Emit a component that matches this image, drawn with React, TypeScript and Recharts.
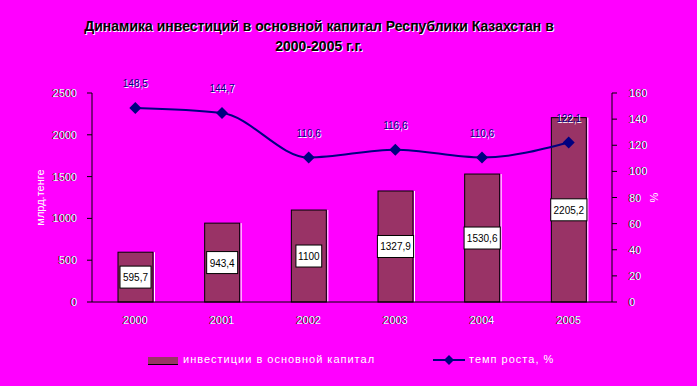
import React from "react";
import {
  ComposedChart, Bar, Line, XAxis, YAxis, Legend, LabelList,
} from "recharts";

const years = ["2000", "2001", "2002", "2003", "2004", "2005"];
const investments = [595.7, 943.4, 1100, 1327.9, 1530.6, 2205.2];
const growthRate = [148.5, 144.7, 110.6, 116.6, 110.6, 122.1];
const leftTicks = [0, 500, 1000, 1500, 2000, 2500];
const rightTicks = [0, 20, 40, 60, 80, 100, 120, 140, 160];
const boundaryTicks = [0, 1, 2, 3, 4, 5, 6];

const data = years.map((year, i) => ({
  year,
  idx: i + 0.5,
  invest: investments[i],
  rate: growthRate[i],
}));

const BG = "#ff00ff";
const BAR = "#993366";
const NAVY = "#000080";
const FONT = "Arial, 'Liberation Sans', sans-serif";

const fmt = (v: number) => String(v).replace(".", ",");

// white text with a dark edge, like the old Excel export
const ShadowText = ({ x, y, anchor, children, size = 11 }: any) => (
  <g fontFamily={FONT} fontSize={size} textAnchor={anchor}>
    <text x={x - 1} y={y} fill="#000">{children}</text>
    <text x={x} y={y} fill="#fff">{children}</text>
  </g>
);

const LeftTick = ({ x, y, payload }: any) => (
  <ShadowText x={x - 8} y={y + 4} anchor="end">{payload.value}</ShadowText>
);
const RightTick = ({ x, y, payload }: any) => (
  <ShadowText x={x + 10} y={y + 4} anchor="start">{payload.value}</ShadowText>
);
const YearTick = ({ x, y, payload }: any) => (
  <ShadowText x={x} y={y + 14} anchor="middle">{payload.value}</ShadowText>
);

const LeftTitle = ({ viewBox }: any) => {
  const cx = viewBox.x + 44;
  const cy = viewBox.y + viewBox.height / 2;
  return (
    <text x={cx} y={cy} transform={`rotate(-90 ${cx} ${cy})`} textAnchor="middle" fontFamily={FONT}
      fontSize={11} fill="#fff">млрд.тенге</text>
  );
};
const RightTitle = ({ viewBox }: any) => {
  const cx = viewBox.x + 46;
  const cy = viewBox.y + viewBox.height / 2;
  return (
    <text x={cx} y={cy} transform={`rotate(-90 ${cx} ${cy})`} textAnchor="middle" fontFamily={FONT}
      fontSize={11} fill="#fff">%</text>
  );
};

const BarShape = ({ x, y, width, height }: any) => (
  <g>
    <rect x={x} y={y} width={width} height={height} fill={BAR} stroke="#000" strokeWidth={1} />
    <line x1={x + width + 1.5} y1={y} x2={x + width + 1.5} y2={y + height} stroke="#fff" strokeWidth={1} />
  </g>
);

const BoxLabel = ({ x, y, width, height, value }: any) => {
  const cx = x + width / 2;
  const cy = y + height / 2;
  const text = fmt(value);
  const w = text.length * 5.2 + 5;
  return (
    <g>
      <rect x={cx - w / 2} y={cy - 11} width={w} height={22} fill="#fff" stroke="#000" strokeWidth={1} />
      <text x={cx} y={cy + 4} textAnchor="middle" fontFamily={FONT} fontSize={10} fill="#000">{text}</text>
    </g>
  );
};

const RateLabel = ({ x, y, value }: any) => (
  <g fontFamily={FONT} fontSize={10} textAnchor="middle">
    <text x={x + 1} y={y - 20} fill="#fff">{fmt(value)}</text>
    <text x={x} y={y - 21} fill={NAVY}>{fmt(value)}</text>
  </g>
);

const Diamond = ({ cx, cy }: any) => (
  <path d={`M${cx - 6},${cy} L${cx},${cy - 6} L${cx + 6},${cy} L${cx},${cy + 6} Z`} fill={NAVY} />
);

const LegendContent = () => (
  <div style={{ position: "relative", height: 30, fontFamily: FONT, fontSize: 11, color: "#fff", letterSpacing: 1 }}>
    <div style={{ position: "absolute", left: 148, top: 4, width: 30, height: 7, background: BAR, borderBottom: "1px solid #000" }} />
    <div style={{ position: "absolute", left: 183, top: 0 }}>инвестиции в основной капитал</div>
    <svg style={{ position: "absolute", left: 433, top: 1 }} width={32} height={12}>
      <line x1={0} y1={6} x2={32} y2={6} stroke={NAVY} strokeWidth={2} />
      <path d="M16,1 L21,6 L16,11 L11,6 Z" fill={NAVY} />
    </svg>
    <div style={{ position: "absolute", left: 469, top: 0 }}>темп роста, %</div>
  </div>
);

export default function App() {
  return (
    <div style={{ position: "fixed", left: 0, top: 0, width: 697, height: 386, background: BG }}>
      <div style={{ position: "absolute", left: 0, top: 16, width: 638, textAlign: "center", fontFamily: FONT, fontSize: 14, fontWeight: "bold", color: "#000", lineHeight: "20px", textShadow: "1px 1px 0 #fff" }}>
        Динамика инвестиций в основной капитал Республики Казахстан в<br />2000-2005 г.г.
      </div>
      <ComposedChart width={697} height={386} data={data}
        margin={{ top: 93, right: 0, left: 0, bottom: 24 }}>
        <XAxis xAxisId="cat" dataKey="year" tick={<YearTick />} tickLine={false}
          axisLine={{ stroke: "#000" }} height={30} interval={0} />
        <XAxis xAxisId="grid" dataKey="idx" type="number" domain={[0, 6]} ticks={boundaryTicks}
          tick={false} tickLine={{ stroke: "#000" }} tickSize={5} axisLine={false} height={0} />
        <YAxis yAxisId="left" domain={[0, 2500]} ticks={leftTicks} width={92}
          tick={<LeftTick />} tickLine={{ stroke: "#000" }} tickSize={5} axisLine={{ stroke: "#000" }}
          label={<LeftTitle />} />
        <YAxis yAxisId="right" orientation="right" domain={[0, 160]} ticks={rightTicks} width={85}
          tick={<RightTick />} tickLine={{ stroke: "#000" }} tickSize={5} axisLine={{ stroke: "#000" }}
          label={<RightTitle />} />
        <Legend verticalAlign="bottom" content={<LegendContent />} wrapperStyle={{ top: 353 }} />
        <Bar xAxisId="cat" yAxisId="left" dataKey="invest" fill={BAR} shape={<BarShape />}
          barSize={35} isAnimationActive={false}>
          <LabelList dataKey="invest" content={<BoxLabel />} />
        </Bar>
        <Line xAxisId="cat" yAxisId="right" dataKey="rate" type="monotone" stroke={NAVY} strokeWidth={2}
          dot={<Diamond />} activeDot={false} isAnimationActive={false}>
          <LabelList dataKey="rate" content={<RateLabel />} />
        </Line>
      </ComposedChart>
    </div>
  );
}
